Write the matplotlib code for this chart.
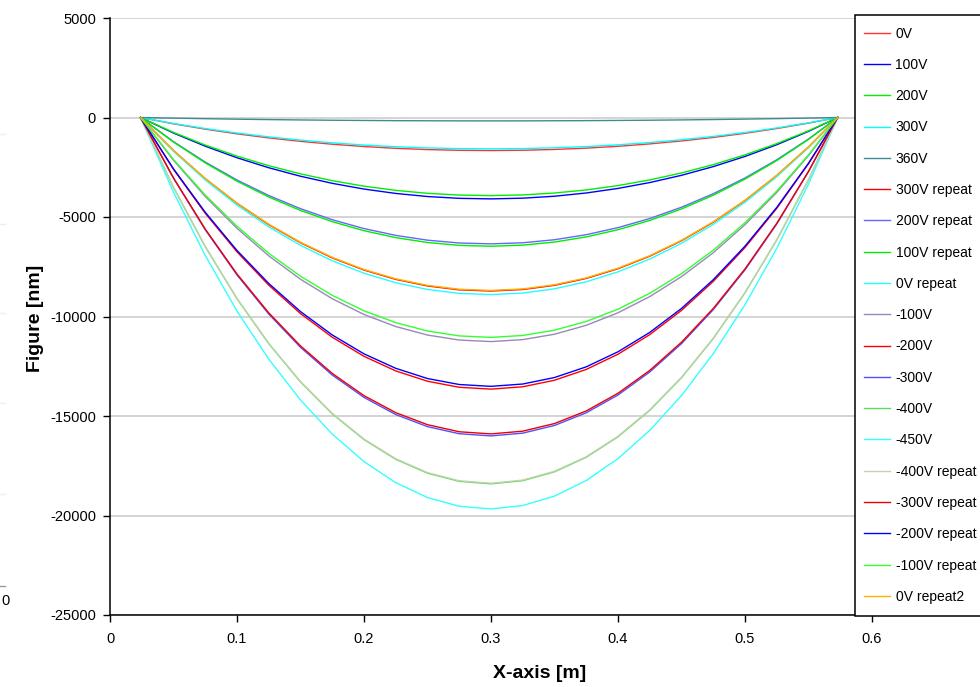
import matplotlib
matplotlib.use("Agg")
import matplotlib.pyplot as plt
from matplotlib.patches import Rectangle
from matplotlib.lines import Line2D

plt.rcParams['font.family'] = ['Liberation Sans', 'DejaVu Sans']

# x positions along the mirror [m]
x = [0.024, 0.05, 0.075, 0.1, 0.125, 0.15, 0.175, 0.2, 0.225, 0.25, 0.275, 0.3,
     0.325, 0.35, 0.375, 0.4, 0.425, 0.45, 0.475, 0.5, 0.525, 0.55, 0.573]

labels = ['0V', '100V', '200V', '300V', '360V', '300V repeat', '200V repeat',
          '100V repeat', '0V repeat', '-100V', '-200V', '-300V', '-400V', '-450V',
          '-400V repeat', '-300V repeat', '-200V repeat', '-100V repeat', '0V repeat2']

v_0 = [0, -317, -585, -821, -1025, -1198, -1343, -1459, -1549, -1612, -1649, -1660,
       -1646, -1606, -1540, -1447, -1327, -1179, -1002, -794, -555, -282, 0]
v_100 = [0, -781, -1442, -2023, -2525, -2952, -3308, -3596, -3816, -3971, -4062, -4090,
         -4054, -3956, -3793, -3564, -3269, -2905, -2468, -1957, -1368, -696, 0]
v_200 = [0, -749, -1384, -1941, -2423, -2833, -3175, -3451, -3662, -3811, -3898, -3925,
         -3891, -3796, -3640, -3421, -3137, -2788, -2369, -1878, -1313, -668, 0]
v_300 = [0, -301, -555, -779, -972, -1137, -1274, -1385, -1469, -1529, -1564, -1575,
         -1561, -1523, -1461, -1373, -1259, -1119, -951, -754, -527, -268, 0]
v_360 = [0, -32, -60, -84, -105, -123, -138, -149, -159, -165, -169, -170,
         -169, -164, -158, -148, -136, -121, -103, -81, -57, -29, 0]
v_300r = [0, -1665, -3075, -4313, -5383, -6294, -7054, -7666, -8135, -8466, -8661, -8720,
          -8644, -8434, -8087, -7600, -6970, -6193, -5263, -4173, -2917, -1483, 0]
v_200r = [0, -1212, -2239, -3141, -3920, -4583, -5137, -5582, -5924, -6165, -6307, -6350,
          -6295, -6142, -5889, -5534, -5076, -4510, -3832, -3039, -2124, -1080, 0]
v_100r = [0, -1235, -2281, -3200, -3994, -4670, -5234, -5688, -6036, -6282, -6426, -6470,
          -6414, -6258, -6000, -5639, -5172, -4595, -3905, -3096, -2164, -1101, 0]
v_0r = [0, -1699, -3138, -4402, -5494, -6424, -7199, -7824, -8303, -8641, -8840, -8900,
        -8823, -8608, -8254, -7756, -7114, -6321, -5371, -4259, -2977, -1514, 0]
v_m100 = [0, -2150, -3970, -5569, -6951, -8128, -9108, -9899, -10505, -10932, -11183, -11260,
          -11162, -10891, -10443, -9813, -9000, -7997, -6795, -5388, -3767, -1915, 0]
v_m200 = [0, -2606, -4813, -6751, -8426, -9853, -11042, -12000, -12734, -13253, -13557, -13650,
          -13531, -13202, -12659, -11896, -10910, -9694, -8238, -6532, -4566, -2322, 0]
v_m300 = [0, -3054, -5642, -7914, -9877, -11549, -12942, -14066, -14926, -15534, -15891, -16000,
          -15861, -15475, -14838, -13944, -12789, -11363, -9656, -7656, -5352, -2722, 0]
v_m400 = [0, -3515, -6491, -9106, -11365, -13288, -14892, -16184, -17175, -17874, -18285, -18410,
          -18250, -17806, -17073, -16044, -14715, -13075, -11110, -8809, -6158, -3132, 0]
v_m450 = [0, -3755, -6936, -9729, -12142, -14198, -15911, -17292, -18350, -19098, -19536, -19670,
          -19499, -19025, -18242, -17142, -15722, -13970, -11871, -9412, -6580, -3346, 0]
v_m400r = [0, -3509, -6481, -9091, -11346, -13267, -14868, -16158, -17147, -17845, -18255, -18380,
           -18220, -17777, -17046, -16018, -14691, -13054, -11092, -8795, -6148, -3126, 0]
v_m300r = [0, -3035, -5606, -7864, -9815, -11477, -12862, -13978, -14833, -15437, -15792, -15900,
           -15762, -15379, -14746, -13857, -12709, -11292, -9596, -7608, -5319, -2705, 0]
v_m200r = [0, -2579, -4764, -6682, -8340, -9752, -10928, -11877, -12604, -13117, -13418, -13510,
           -13393, -13067, -12529, -11773, -10799, -9595, -8153, -6465, -4519, -2298, 0]
v_m100r = [0, -2109, -3896, -5465, -6821, -7976, -8938, -9714, -10309, -10728, -10975, -11050,
           -10954, -10688, -10248, -9630, -8832, -7848, -6669, -5287, -3696, -1880, 0]
v_0r2 = [0, -1659, -3064, -4298, -5364, -6272, -7029, -7639, -8107, -8437, -8631, -8690,
         -8614, -8405, -8059, -7573, -6946, -6172, -5244, -4158, -2907, -1478, 0]

series = [v_0, v_100, v_200, v_300, v_360, v_300r, v_200r, v_100r, v_0r, v_m100,
          v_m200, v_m300, v_m400, v_m450, v_m400r, v_m300r, v_m200r, v_m100r, v_0r2]

colors = ['#FF3333', '#0000FF', '#00EE00', '#00FFFF', '#3F8A94', '#FF0000', '#6666FF',
          '#00EE00', '#22FFFF', '#9A88B8', '#FF0000', '#5050FF', '#55DD55', '#33FFFF',
          '#C2D2B2', '#EE0000', '#0000FF', '#33FF33', '#FFB000']

yticks = [5000, 0, -5000, -10000, -15000, -20000, -25000]
xticks = [0, 0.1, 0.2, 0.3, 0.4, 0.5, 0.6]

W, H = 980, 687
fig = plt.figure(figsize=(9.8, 6.87), dpi=100)
ax = fig.add_axes([110 / W, 1 - 615 / H, 1 - 110 / W, (615 - 18) / H])

for yv in yticks:
    ax.axhline(yv, color='#D4D4D4', lw=1.4, zorder=0)

for vals, lab, c in zip(series, labels, colors):
    ax.plot(x, vals, color=c, lw=1.0, label=lab)

ax.set_xlim(0, (W - 110) / 1270)
ax.set_ylim(-25000, 5000)
ax.set_yticks(yticks)
ax.set_yticklabels([str(t) for t in yticks])
ax.set_xticks(xticks)
ax.set_xticklabels(['0', '0.1', '0.2', '0.3', '0.4', '0.5', '0.6'])
ax.tick_params(axis='both', direction='out', length=5, width=1, labelsize=10.5,
               colors='black')
ax.tick_params(axis='y', pad=5)
ax.tick_params(axis='x', pad=7)
for s in ['top', 'right']:
    ax.spines[s].set_visible(False)
for s in ['left', 'bottom']:
    ax.spines[s].set_linewidth(1.1)
    ax.spines[s].set_color('black')

fig.text(35 / W, 1 - 318 / H, 'Figure [nm]', rotation=90, ha='center', va='center',
         fontsize=14, fontweight='bold')
fig.text(540 / W, 1 - 673 / H, 'X-axis [m]', ha='center', va='center',
         fontsize=14, fontweight='bold')

# legend box
fig.patches.append(Rectangle((855 / W, 1 - 616 / H), 140 / W, (616 - 15) / H,
                             transform=fig.transFigure, facecolor='white',
                             edgecolor='black', lw=1.1, zorder=5))
handles, labs = ax.get_legend_handles_labels()
leg = fig.legend(handles, labs, loc='upper left', bbox_to_anchor=(858 / W, 1 - 21 / H),
                 frameon=False, fontsize=10, handlelength=1.9, handletextpad=0.4,
                 labelspacing=1.245, borderaxespad=0)
leg.set_zorder(6)

# cropped remains of a neighbouring chart at the left edge
for yy in [134, 224, 313, 403, 494]:
    fig.add_artist(Line2D([0, 5 / W], [1 - yy / H] * 2, color='#EEEEEE', lw=1))
fig.add_artist(Line2D([0, 5 / W], [1 - 586 / H] * 2, color='#999999', lw=1))
fig.text(1 / W, 1 - 601 / H, '0', ha='left', va='center', fontsize=10.5)

fig.savefig('out.png', dpi=100)
